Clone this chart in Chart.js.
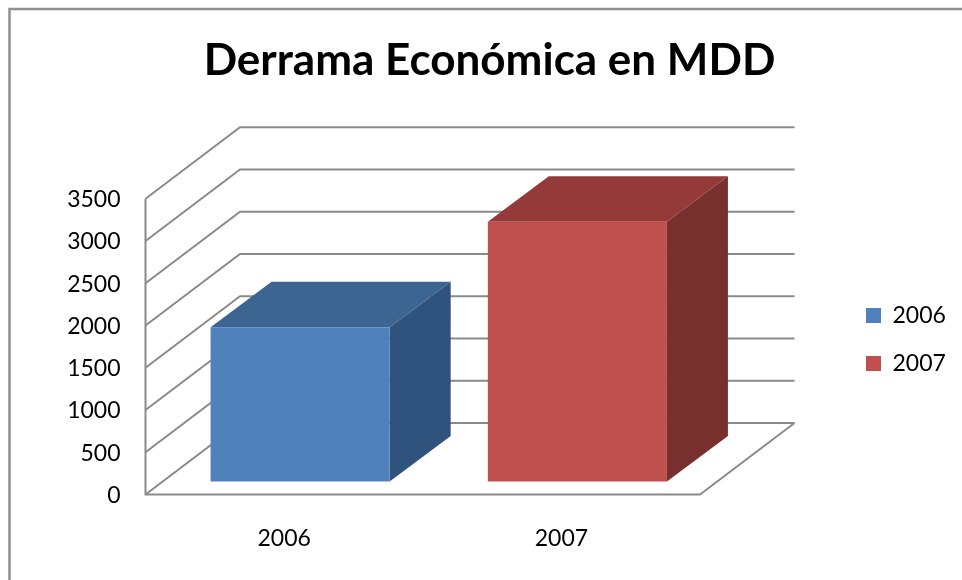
<!DOCTYPE html>
<html>
<head>
<meta charset="utf-8">
<style>
  html, body { margin: 0; padding: 0; background: #fff; overflow: hidden; }
  canvas { display: block; }
</style>
</head>
<body>
<canvas id="chart" width="962" height="580"></canvas>
<script src="https://cdn.jsdelivr.net/npm/chart.js@4/dist/chart.umd.min.js"></script>
<script>
const categories = ["2006", "2007"];
const series2006 = [1825, null];
const series2007 = [null, 3075];
const yTicks = [0, 500, 1000, 1500, 2000, 2500, 3000, 3500];

const FONT = "Lato";
const GRID = "#8a8a8a";

// depth of the fake 3D box
const wallX = 94.5, wallY = -71.5;
const barShiftX = 16, barShiftY = -13;
const barDepthX = 61, barDepthY = -45.5;

const faces = [
  { side: "#30537e", top: "#3d6592" },
  { side: "#77302e", top: "#943b39" },
];

function poly(ctx, pts, fill) {
  ctx.beginPath();
  pts.forEach((p, i) => (i ? ctx.lineTo(p[0], p[1]) : ctx.moveTo(p[0], p[1])));
  ctx.closePath();
  ctx.fillStyle = fill;
  ctx.fill();
}

const box3d = {
  id: "box3d",
  afterLayout(chart) {
    // legend sits outside the plot, move it there by hand
    const legend = chart.legend;
    legend.left = 841;
    legend.right = 962;
    legend.top = 279;
    legend.bottom = 500;
    // title is centred on the whole picture, not on the plot
    chart.titleBlock.left = 17;
    chart.titleBlock.right = 962;
  },
  beforeDraw(chart) {
    const ctx = chart.ctx;
    ctx.save();
    ctx.strokeStyle = "#8f8f8f";
    ctx.lineWidth = 2.5;
    ctx.beginPath();
    ctx.moveTo(9.5, 580);
    ctx.lineTo(9.5, 9);
    ctx.lineTo(962, 9);
    ctx.stroke();
    ctx.restore();
  },
  beforeDatasetsDraw(chart) {
    const ctx = chart.ctx;
    const { left, right } = chart.chartArea;
    const y = chart.scales.y;

    ctx.save();
    ctx.strokeStyle = GRID;
    ctx.lineWidth = 2;
    yTicks.forEach((t) => {
      const py = y.getPixelForValue(t);
      ctx.beginPath();
      ctx.moveTo(left, py);
      ctx.lineTo(left + wallX, py + wallY);
      ctx.lineTo(right + wallX, py + wallY);
      ctx.stroke();
    });
    const y0 = y.getPixelForValue(0);
    ctx.beginPath();
    ctx.moveTo(left, y.getPixelForValue(3500));
    ctx.lineTo(left, y0);
    ctx.lineTo(right, y0);
    ctx.lineTo(right + wallX, y0 + wallY);
    ctx.stroke();
    ctx.restore();

    // side and top of each bar, the front is the real bar element
    chart.data.datasets.forEach((ds, i) => {
      chart.getDatasetMeta(i).data.forEach((bar, j) => {
        if (ds.data[j] == null) return;
        const p = bar.getProps(["x", "y", "base", "width"]);
        const l = p.x - p.width / 2 + barShiftX;
        const r = p.x + p.width / 2 + barShiftX;
        const t = p.y + barShiftY;
        const b = p.base + barShiftY;
        poly(ctx, [[r, t], [r + barDepthX, t + barDepthY], [r + barDepthX, b + barDepthY], [r, b]], faces[i].side);
        poly(ctx, [[l, t], [l + barDepthX, t + barDepthY], [r + barDepthX, t + barDepthY], [r, t]], faces[i].top);
      });
    });

    ctx.save();
    ctx.translate(barShiftX, barShiftY);
  },
  afterDatasetsDraw(chart) {
    chart.ctx.restore();
  },
};

new Chart(document.getElementById("chart"), {
  type: "bar",
  data: {
    labels: categories,
    datasets: [
      { label: "2006", data: series2006, backgroundColor: "#4f81bd", clip: false },
      { label: "2007", data: series2007, backgroundColor: "#c0504d", clip: false },
    ],
  },
  options: {
    responsive: false,
    animation: false,
    devicePixelRatio: 1,
    barPercentage: 0.646,
    categoryPercentage: 1,
    layout: { padding: { left: 17, right: 262, top: 34, bottom: 0 } },
    plugins: {
      tooltip: { enabled: false },
      title: {
        display: true,
        text: "Derrama Económica en MDD",
        color: "#000",
        font: { family: FONT, size: 44, weight: "bold", lineHeight: 1.2 },
        padding: { top: 0, bottom: 112 },
      },
      legend: {
        position: "chartArea",
        align: "start",
        labels: {
          boxWidth: 15,
          boxHeight: 15,
          padding: 25,
          color: "#000",
          font: { family: FONT, size: 23 },
        },
      },
    },
    scales: {
      x: {
        stacked: true,
        grid: { display: false, drawTicks: false },
        border: { display: false },
        afterFit(scale) { scale.height = 85.5; },
        ticks: { color: "#000", padding: 30, font: { family: FONT, size: 23 } },
      },
      y: {
        stacked: true,
        min: 0,
        max: 3500,
        grid: { display: false, drawTicks: false },
        border: { display: false },
        afterFit(scale) { scale.width = 128.5; },
        afterBuildTicks(scale) { scale.ticks = yTicks.map((v) => ({ value: v })); },
        ticks: {
          color: "#000",
          padding: 25,
          labelOffset: 1,
          font: { family: FONT, size: 23 },
          callback: (v) => String(v),
        },
      },
    },
  },
  plugins: [box3d],
});
</script>
</body>
</html>
